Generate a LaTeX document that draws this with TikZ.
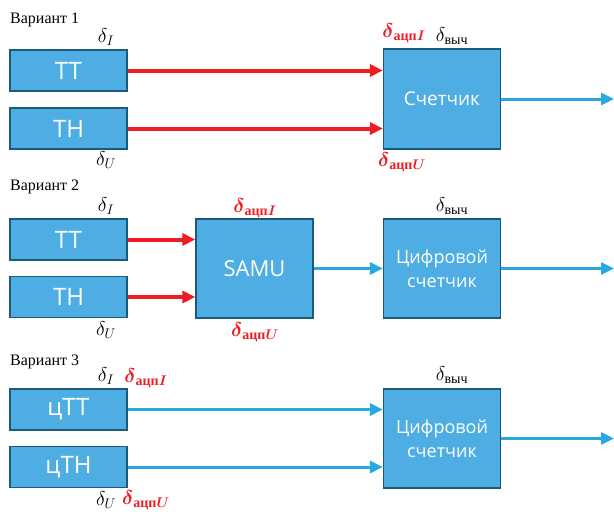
\RequirePackage{fix-cm}
\documentclass[tikz,border=0pt]{standalone}
\usepackage{amsmath}
\usepackage{fontspec}
\setmainfont{Liberation Serif}
\newfontfamily\boxfont{Open Sans}
\usetikzlibrary{arrows.meta}

\definecolor{boxblue}{HTML}{4EAEE3}
\definecolor{boxedge}{HTML}{1D5A7A}
\definecolor{arrred}{HTML}{EE1C25}
\definecolor{arrblue}{HTML}{27AAE1}

\newcommand{\dacp}[1]{$\boldsymbol{\delta}_{\textbf{ацп}\boldsymbol{#1}}$}
\newcommand{\dvych}{$\delta_{\text{выч}}$}

\tikzset{
  unit/.style={draw=boxedge, line width=1.2pt, fill=boxblue, text=white,
    inner sep=0pt, align=center, minimum width=117pt},
  small/.style={unit, minimum height=41pt, font=\boxfont\fontsize{24}{26}\selectfont},
  big/.style={unit, minimum height=99pt},
  redline/.style={draw=arrred, line width=4pt, -{Triangle[length=13pt,width=12pt]}},
  blueline/.style={draw=arrblue, line width=3pt, -{Triangle[length=13pt,width=12pt]}},
  varlab/.style={anchor=west, inner sep=0pt, font=\fontsize{16}{18}\selectfont},
  dlab/.style={inner sep=0pt, font=\fontsize{20}{22}\selectfont},
  dred/.style={dlab, text=arrred},
}

\begin{document}
\begin{tikzpicture}[x=1pt,y=-1pt]
  \useasboundingbox (0,0) rectangle (614,512);

  % Вариант 1
  \node[varlab] (v1) at (10,20) {Вариант 1};
  \node[small] (tt1) at (68.5,70.5) {ТТ};
  \node[small] (th1) at (68.5,128.5) {ТН};
  \node[big, minimum height=100pt, font=\boxfont\fontsize{19}{22}\selectfont] (cnt1) at (442,99) {Счетчик};
  \coordinate (out1) at (614,99);
  \draw[redline] (tt1.east) -- (tt1.east -| cnt1.west);
  \draw[redline] (th1.east) -- (th1.east -| cnt1.west);
  \draw[blueline] (cnt1.east) -- (out1);
  \node[dlab] (di1) at (106,37) {$\delta_I$};
  \node[dlab] (du1) at (106,160) {$\delta_U$};
  \node[dred] (dai1) at (404,33) {\dacp{I}};
  \node[dred] (dau1) at (402,162) {\dacp{U}};
  \node[dlab] (dv1) at (452,36) {\dvych};

  % Вариант 2
  \node[varlab] (v2) at (10,187) {Вариант 2};
  \node[small] (tt2) at (68.5,239.5) {ТТ};
  \node[small] (th2) at (68.5,297) {ТН};
  \node[big, font=\boxfont\fontsize{22}{26}\selectfont] (samu) at (254.5,268.5) {SAMU};
  \node[big, font=\boxfont\fontsize{18}{24}\selectfont] (cnt2) at (442,268.5) {Цифровой\\счетчик};
  \coordinate (out2) at (614,268.5);
  \draw[redline] (tt2.east) -- (tt2.east -| samu.west);
  \draw[redline] (th2.east) -- (th2.east -| samu.west);
  \draw[blueline] (samu.east) -- (cnt2.west);
  \draw[blueline] (cnt2.east) -- (out2);
  \node[dlab] (di2) at (106,206) {$\delta_I$};
  \node[dlab] (du2) at (106,330) {$\delta_U$};
  \node[dred] (dai2) at (255,208) {\dacp{I}};
  \node[dred] (dau2) at (255,332) {\dacp{U}};
  \node[dlab] (dv2) at (452,206) {\dvych};

  % Вариант 3
  \node[varlab] (v3) at (10,362) {Вариант 3};
  \node[small] (tt3) at (68.5,409.5) {цТТ};
  \node[small] (th3) at (68.5,467) {цТН};
  \node[big, font=\boxfont\fontsize{18}{24}\selectfont] (cnt3) at (442,438.5) {Цифровой\\счетчик};
  \coordinate (out3) at (614,438.5);
  \draw[blueline] (tt3.east) -- (tt3.east -| cnt3.west);
  \draw[blueline] (th3.east) -- (th3.east -| cnt3.west);
  \draw[blueline] (cnt3.east) -- (out3);
  \node[dlab] (di3) at (106,376) {$\delta_I$};
  \node[dlab] (du3) at (106,500) {$\delta_U$};
  \node[dred] (dai3) at (146,378) {\dacp{I}};
  \node[dred] (dau3) at (146,500) {\dacp{U}};
  \node[dlab] (dv3) at (452,375) {\dvych};
\end{tikzpicture}
\end{document}
